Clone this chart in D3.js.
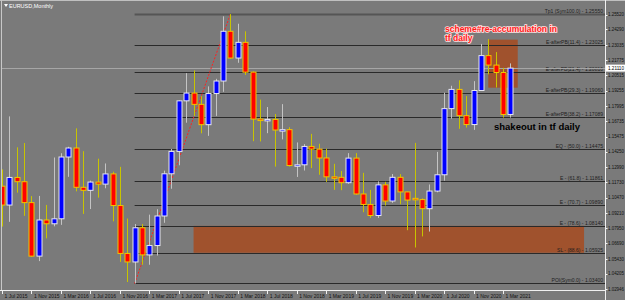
<!DOCTYPE html>
<html>
<head>
  <meta charset="UTF-8">
  <title>EURUSD,Monthly</title>
  <style>
    body { margin: 0; overflow: hidden; background: #7a7a7a; }
    text { font-family: "Liberation Sans", Arial, sans-serif; }
  </style>
</head>
<body>
  <script src="https://d3js.org/d3.v7.min.js"></script>
  <script>
    // monthly candles, Jul 2015 .. Apr 2021 (index 0 = Jul 2015)
    const opens = [1.1140, 1.0985, 1.1212, 1.1177, 1.1005, 1.0565, 1.0862, 1.0831, 1.0872, 1.1380,
      1.1454, 1.1131, 1.1106, 1.1174, 1.1157, 1.1241, 1.0981, 1.0587, 1.0517, 1.0798,
      1.0575, 1.0652, 1.0895, 1.1242, 1.1426, 1.1842, 1.1906, 1.1813, 1.1646, 1.1902,
      1.2005, 1.2414, 1.2194, 1.2323, 1.2078, 1.1692, 1.1684, 1.1689, 1.1602, 1.1605,
      1.1310, 1.1316, 1.1467, 1.1445, 1.1372, 1.1217, 1.1213, 1.1169, 1.1371, 1.1076,
      1.0990, 1.0899, 1.1151, 1.1018, 1.1213, 1.1093, 1.1040, 1.1030, 1.0955, 1.1100,
      1.1234, 1.1778, 1.1936, 1.1720, 1.1647, 1.1927, 1.2214, 1.2136, 1.2075, 1.1730];
    const highs = [1.1278, 1.1714, 1.1460, 1.1495, 1.1059, 1.1060, 1.0986, 1.1376, 1.1411, 1.1464,
      1.1616, 1.1428, 1.1186, 1.1366, 1.1327, 1.1259, 1.1299, 1.0874, 1.0829, 1.0829,
      1.0906, 1.0951, 1.1268, 1.1446, 1.1846, 1.2070, 1.2092, 1.1880, 1.1961, 1.2023,
      1.2537, 1.2555, 1.2476, 1.2414, 1.2084, 1.1852, 1.1791, 1.1734, 1.1815, 1.1625,
      1.1500, 1.1486, 1.1570, 1.1489, 1.1448, 1.1324, 1.1265, 1.1412, 1.1412, 1.1250,
      1.1110, 1.1179, 1.1176, 1.1240, 1.1239, 1.1095, 1.1496, 1.1040, 1.1154, 1.1422,
      1.1909, 1.1966, 1.2011, 1.1881, 1.2004, 1.2310, 1.2350, 1.2243, 1.2113, 1.2150];
    const lows = [1.0808, 1.0847, 1.1087, 1.0896, 1.0558, 1.0524, 1.0711, 1.0810, 1.0822, 1.1217,
      1.1098, 1.0912, 1.0952, 1.1046, 1.1123, 1.0851, 1.0518, 1.0352, 1.0340, 1.0494,
      1.0494, 1.0570, 1.0839, 1.1119, 1.1312, 1.1662, 1.1717, 1.1575, 1.1554, 1.1718,
      1.1916, 1.2188, 1.2155, 1.2055, 1.1510, 1.1508, 1.1576, 1.1301, 1.1525, 1.1302,
      1.1216, 1.1269, 1.1289, 1.1234, 1.1176, 1.1110, 1.1107, 1.1160, 1.1070, 1.0926,
      1.0879, 1.0879, 1.0981, 1.1003, 1.0992, 1.0778, 1.0636, 1.0727, 1.0767, 1.1090,
      1.1185, 1.1696, 1.1612, 1.1622, 1.1603, 1.1925, 1.2060, 1.1952, 1.1704, 1.1704];
    const closes = [1.0985, 1.1212, 1.1177, 1.1005, 1.0565, 1.0862, 1.0831, 1.0872, 1.1380, 1.1454,
      1.1131, 1.1106, 1.1174, 1.1157, 1.1241, 1.0981, 1.0587, 1.0517, 1.0798, 1.0575,
      1.0652, 1.0895, 1.1242, 1.1426, 1.1842, 1.1906, 1.1813, 1.1646, 1.1902, 1.2005,
      1.2414, 1.2194, 1.2323, 1.2078, 1.1692, 1.1684, 1.1689, 1.1602, 1.1605, 1.1310,
      1.1316, 1.1467, 1.1445, 1.1372, 1.1217, 1.1213, 1.1169, 1.1371, 1.1076, 1.0990,
      1.0899, 1.1151, 1.1018, 1.1213, 1.1093, 1.1026, 1.1030, 1.0955, 1.1100, 1.1234,
      1.1778, 1.1936, 1.1720, 1.1647, 1.1927, 1.2214, 1.2136, 1.2075, 1.1730, 1.2111];

    // time axis labels (every 4 months)
    const timeLabels = ["1 Jul 2015", "1 Nov 2015", "1 Mar 2016", "1 Jul 2016", "1 Nov 2016",
      "1 Mar 2017", "1 Jul 2017", "1 Nov 2017", "1 Mar 2018", "1 Jul 2018", "1 Nov 2018",
      "1 Mar 2019", "1 Jul 2019", "1 Nov 2019", "1 Mar 2020", "1 Jul 2020", "1 Nov 2020", "1 Mar 2021"];

    // price axis labels
    const priceTicks = [1.25520, 1.24290, 1.23035, 1.21775, 1.20515, 1.19255, 1.17995, 1.16735,
      1.15475, 1.14250, 1.12990, 1.11730, 1.10470, 1.09210, 1.07950, 1.06690, 1.05430, 1.04205, 1.02946];

    // fibo levels drawn from the Jan 2017 low
    const fibPrices = [1.25550, 1.23025, 1.20810, 1.19060, 1.17089, 1.14475, 1.11861, 1.09890, 1.08140, 1.05925, 1.03400];
    const fibLabels = ["Tp1 (Sym100.0) - 1.25550", "E-afterPB(11.4) - 1.23025", "E-afterPB(21.4) - 1.20810",
      "E-afterPB(29.3) - 1.19060", "E-afterPB(38.2) - 1.17089", "EQ - (50.0) - 1.14475", "E - (61.8) - 1.11861",
      "E - (70.7) - 1.09890", "E - (78.6) - 1.08140", "SL - (88.6) - 1.05925", "POI(Sym0.0) - 1.03400"];
    const fibStart = 18;

    // boxes: [start month idx, end month idx, top price, bottom price]
    const boxStart = [66, 26];
    const boxEnd = [70, 79];
    const boxTop = [1.2345, 1.08140];
    const boxBottom = [1.1950, 1.05925];

    // trend line: Jan 2017 low -> Feb 2018 high
    const trendIdx = [18, 31];
    const trendPrice = [1.0340, 1.2555];

    const width = 625, height = 300;
    const plotRight = 605, plotBottom = 290;

    const x = d3.scaleLinear().domain([0, 68]).range([2, 503]);
    const y = d3.scaleLinear().domain([1.02946, 1.25520]).range([289, 14.5]);

    const svg = d3.select("body").append("svg")
      .attr("width", width)
      .attr("height", height);

    svg.append("rect").attr("width", width).attr("height", height).attr("fill", "#7a7a7a");

    svg.append("defs").append("clipPath").attr("id", "plot")
      .append("rect").attr("x", 2).attr("y", 2).attr("width", plotRight - 2).attr("height", plotBottom - 2);

    const g = svg.append("g").attr("clip-path", "url(#plot)");

    // boxes (background)
    g.selectAll("rect.box")
      .data(boxStart)
      .enter().append("rect")
      .attr("class", "box")
      .attr("x", (d, i) => x(d))
      .attr("y", (d, i) => y(boxTop[i]))
      .attr("width", (d, i) => x(boxEnd[i]) - x(d))
      .attr("height", (d, i) => y(boxBottom[i]) - y(boxTop[i]))
      .attr("fill", "#a0522d");

    // fibo lines
    g.selectAll("line.fib")
      .data(fibPrices)
      .enter().append("line")
      .attr("x1", x(fibStart))
      .attr("x2", plotRight)
      .attr("y1", d => Math.round(y(d)) + 0.5)
      .attr("y2", d => Math.round(y(d)) + 0.5)
      .attr("stroke", (d, i) => i === 0 ? "#555" : "#2a2a2a")
      .attr("stroke-width", (d, i) => i === 0 ? 2 : 1.2);

    g.selectAll("text.fib")
      .data(fibLabels)
      .enter().append("text")
      .attr("x", plotRight - 2)
      .attr("y", (d, i) => Math.round(y(fibPrices[i])) - 1.5)
      .attr("text-anchor", "end")
      .attr("font-size", "5px")
      .attr("fill", "#1e1e1e")
      .text(d => d);

    // bid line
    const last = closes[closes.length - 1];
    g.append("line")
      .attr("x1", 2).attr("x2", plotRight)
      .attr("y1", Math.round(y(last)) + 0.5).attr("y2", Math.round(y(last)) + 0.5)
      .attr("stroke", "#a6a6a6").attr("stroke-width", 1);

    // trend line
    g.append("line")
      .attr("x1", x(trendIdx[0])).attr("y1", y(trendPrice[0]))
      .attr("x2", x(trendIdx[1])).attr("y2", y(trendPrice[1]))
      .attr("stroke", "#ff2020").attr("stroke-width", 1)
      .attr("stroke-dasharray", "2,1.5");

    // candles
    const candles = g.append("g").selectAll("g")
      .data(opens)
      .enter().append("g");

    candles.append("line")
      .attr("x1", (d, i) => Math.round(x(i)) + 0.5)
      .attr("x2", (d, i) => Math.round(x(i)) + 0.5)
      .attr("y1", (d, i) => y(highs[i]))
      .attr("y2", (d, i) => y(lows[i]))
      .attr("stroke", (d, i) => closes[i] >= d ? "#c4c4c4" : "#c8c400")
      .attr("stroke-width", 1);

    candles.append("rect")
      .attr("x", (d, i) => Math.round(x(i)) - 2)
      .attr("width", 5)
      .attr("y", (d, i) => y(Math.max(d, closes[i])))
      .attr("height", (d, i) => Math.max(1.5, Math.abs(y(d) - y(closes[i]))))
      .attr("fill", (d, i) => closes[i] >= d ? "#0000ff" : "#ff0000")
      .attr("stroke", (d, i) => closes[i] >= d ? "#e6e6f0" : "#f0c400")
      .attr("stroke-width", 1);

    // frame
    svg.append("line").attr("x1", 0).attr("x2", width).attr("y1", 0.5).attr("y2", 0.5).attr("stroke", "#c0c0c0");
    svg.append("line").attr("x1", 1.5).attr("x2", 1.5).attr("y1", 0).attr("y2", plotBottom).attr("stroke", "#c8c8c8");
    svg.append("line").attr("x1", plotRight + 0.5).attr("x2", plotRight + 0.5).attr("y1", 0).attr("y2", height).attr("stroke", "#f0f0f0");
    svg.append("line").attr("x1", 0).attr("x2", plotRight).attr("y1", plotBottom + 0.5).attr("y2", plotBottom + 0.5).attr("stroke", "#f0f0f0");

    // price axis
    const pAxis = svg.append("g");
    pAxis.selectAll("line")
      .data(priceTicks)
      .enter().append("line")
      .attr("x1", plotRight).attr("x2", plotRight + 2.5)
      .attr("y1", d => Math.round(y(d)) + 0.5).attr("y2", d => Math.round(y(d)) + 0.5)
      .attr("stroke", "#f0f0f0");
    pAxis.selectAll("text")
      .data(priceTicks)
      .enter().append("text")
      .attr("x", plotRight + 3)
      .attr("y", d => y(d) + 1.8)
      .attr("font-size", "4.6px")
      .attr("textLength", 16)
      .attr("lengthAdjust", "spacingAndGlyphs")
      .attr("fill", "#111")
      .text(d => d.toFixed(5));

    // current price tag
    pAxis.append("rect")
      .attr("x", plotRight + 1).attr("y", y(last) - 3.5)
      .attr("width", 19).attr("height", 7)
      .attr("fill", "#ffffff");
    pAxis.append("text")
      .attr("x", plotRight + 3).attr("y", y(last) + 1.8)
      .attr("font-size", "4.6px").attr("fill", "#000")
      .attr("textLength", 16)
      .attr("lengthAdjust", "spacingAndGlyphs")
      .text(last.toFixed(5));

    // time axis
    const tAxis = svg.append("g");
    tAxis.selectAll("line")
      .data(timeLabels)
      .enter().append("line")
      .attr("x1", (d, i) => Math.round(x(i * 4)) + 0.5).attr("x2", (d, i) => Math.round(x(i * 4)) + 0.5)
      .attr("y1", plotBottom).attr("y2", plotBottom + 4)
      .attr("stroke", "#f0f0f0");
    tAxis.selectAll("text")
      .data(timeLabels)
      .enter().append("text")
      .attr("x", (d, i) => x(i * 4) + 2.5)
      .attr("y", plotBottom + 8)
      .attr("font-size", "5px")
      .attr("fill", "#111")
      .text(d => d);

    // header
    svg.append("path").attr("d", "M4,4 L8,4 L6,7 Z").attr("fill", "#fff");
    svg.append("text")
      .attr("x", 9).attr("y", 8)
      .attr("font-size", "5.5px").attr("fill", "#fff")
      .text("EURUSD,Monthly");

    // annotations
    const note = svg.append("g")
      .attr("font-weight", "bold")
      .attr("font-size", "8.5px")
      .attr("fill", "#ff1a1a")
      .attr("stroke", "#ffe0e0")
      .attr("stroke-width", 1.6)
      .attr("paint-order", "stroke");
    note.append("text").attr("x", 445).attr("y", 31.5).text("scheme#re-accumulation in");
    note.append("text").attr("x", 445).attr("y", 41).text("tf daily");

    svg.append("text")
      .attr("x", 494).attr("y", 129.5)
      .attr("font-weight", "bold").attr("font-size", "9.5px")
      .attr("fill", "#000")
      .text("shakeout in tf daily");
  </script>
</body>
</html>
